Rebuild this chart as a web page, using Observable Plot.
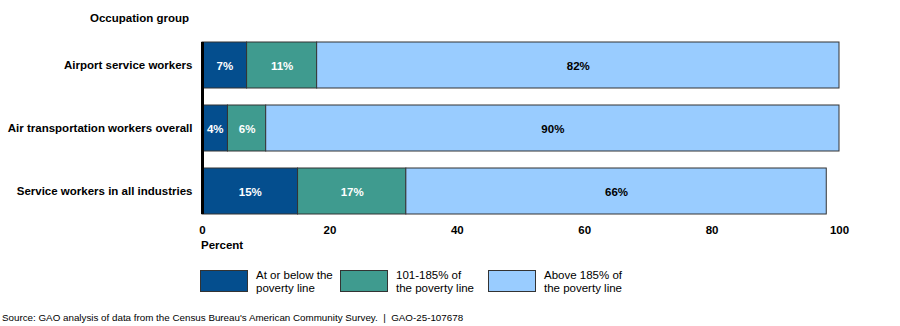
<!DOCTYPE html>
<html>
<head>
<meta charset="utf-8">
<script src="https://cdn.jsdelivr.net/npm/d3@7"></script>
<script src="https://cdn.jsdelivr.net/npm/@observablehq/plot@0.6"></script>
<style>
  html, body { margin: 0; padding: 0; background: #fff; }
  body { font-family: Arial, "Liberation Sans", sans-serif; color: #000; }
  #wrap { position: relative; width: 900px; height: 326px; overflow: hidden; }
  #ytitle { position: absolute; right: 711px; top: 12px; font-size: 11.5px; font-weight: bold; white-space: nowrap; }
  #xtitle { position: absolute; left: 201px; top: 239px; font-size: 11.5px; font-weight: bold; }
  #legend { position: absolute; left: 200px; top: 270px; display: flex; }
  .item { display: flex; align-items: flex-start; }
  .sw { width: 46px; height: 20px; border: 1px solid #333; box-sizing: content-box; margin-right: 8px; }
  .lt { font-size: 11.5px; line-height: 13px; margin-top: -1px; }
  #caption { position: absolute; left: 2px; top: 312px; font-size: 9.8px; white-space: nowrap; }
</style>
</head>
<body>
<div id="wrap">
  <div id="chart"></div>
  <div id="ytitle">Occupation group</div>
  <div id="xtitle">Percent</div>
  <div id="legend"></div>
  <div id="caption">Source: GAO analysis of data from the Census Bureau's American Community Survey.&nbsp; |&nbsp; GAO-25-107678</div>
</div>
<script>
const categories = ["Airport service workers", "Air transportation workers overall", "Service workers in all industries"];
const seriesNames = ["At or below the poverty line", "101-185% of the poverty line", "Above 185% of the poverty line"];
const legendLines = [["At or below the", "poverty line"], ["101-185% of", "the poverty line"], ["Above 185% of", "the poverty line"]];
const belowPoverty = [7, 4, 15];
const between101and185 = [11, 6, 17];
const above185 = [82, 90, 66];
const xTicks = [0, 20, 40, 60, 80, 100];
const colors = ["#044e8e", "#3f9b8f", "#99ccff"];

const seriesValues = [belowPoverty, between101and185, above185];
const data = [];
categories.forEach((c, i) => {
  seriesNames.forEach((s, j) => {
    data.push({group: c, series: s, order: j, value: seriesValues[j][i]});
  });
});

const textOpts = {fontSize: 11.5, fontWeight: "bold", fontFamily: "Arial, 'Liberation Sans', sans-serif", dy: 1};

const chart = Plot.plot({
  width: 900,
  height: 258,
  marginLeft: 202,
  marginRight: 61,
  marginTop: 42,
  marginBottom: 44,
  style: {fontFamily: "Arial, 'Liberation Sans', sans-serif", fontSize: "11.5px", fontWeight: "bold", color: "#000", background: "white"},
  x: {domain: [0, 100], ticks: xTicks, tickSize: 0, tickPadding: 11, label: null},
  y: {domain: categories, paddingInner: 0.27, paddingOuter: 0, tickSize: 0, tickPadding: 10, label: null},
  color: {domain: seriesNames, range: colors},
  marks: [
    Plot.barX(data, Plot.stackX({x: "value", y: "group", fill: "series", order: "order", stroke: "#333", strokeWidth: 1})),
    Plot.text(data, Plot.stackX({x: "value", y: "group", order: "order", text: d => d.order < 2 ? d.value + "%" : null, fill: "white", ...textOpts})),
    Plot.text(data, Plot.stackX({x: "value", y: "group", order: "order", text: d => d.order === 2 ? d.value + "%" : null, fill: "black", ...textOpts})),
    Plot.ruleX([0], {stroke: "black", strokeWidth: 3})
  ]
});
document.getElementById("chart").appendChild(chart);

const legend = document.getElementById("legend");
const itemWidths = [140, 148, 160];
seriesNames.forEach((s, j) => {
  const item = document.createElement("div");
  item.className = "item";
  item.style.width = itemWidths[j] + "px";
  const sw = document.createElement("div");
  sw.className = "sw";
  sw.style.background = colors[j];
  const lt = document.createElement("div");
  lt.className = "lt";
  lt.innerHTML = legendLines[j].join("<br>");
  item.appendChild(sw);
  item.appendChild(lt);
  legend.appendChild(item);
});
</script>
</body>
</html>
